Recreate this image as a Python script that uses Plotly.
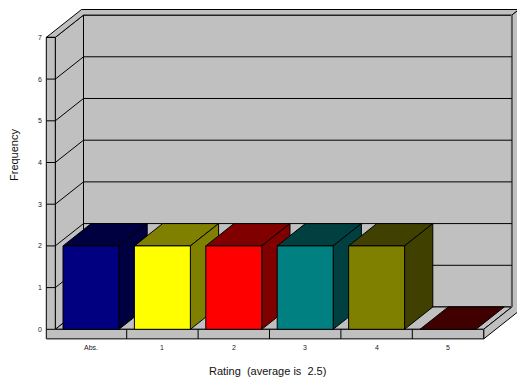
import plotly.graph_objects as go

# ---- data -------------------------------------------------------------
categories = ["Abs.", "1", "2", "3", "4", "5"]
frequency = [2, 2, 2, 2, 2, 0]
front_colors = ["#000080", "#FFFF00", "#FF0000", "#008080", "#808000", "#800000"]
shade_colors = ["#000040", "#808000", "#800000", "#004040", "#404000", "#400000"]
y_ticks = [0, 1, 2, 3, 4, 5, 6, 7]
x_title = "Rating  (average is  2.5)"
y_title = "Frequency"

# ---- 3-D box geometry (axis units) -----------------------------------
N = len(categories)
Y_MAX = max(y_ticks)
DX, DY = 0.395, 0.535      # screen offset of one unit of depth
WALL_T = 0.126             # left wall thickness (category units)
FLOOR_T = 0.23             # floor thickness (value units)
BACK_T = 0.25              # back wall thickness (depth units)
GAP = 0.108                # gap either side of a bar inside its category

WALL = "#C0C0C0"
EDGE = "#000000"


def proj(x, y, z):
    return x + DX * z, y + DY * z


def path(pts):
    xy = [proj(*p) for p in pts]
    return "M " + " L ".join(f"{x:.4f},{y:.4f}" for x, y in xy) + " Z"


def line_path(p0, p1):
    (x0, y0), (x1, y1) = proj(*p0), proj(*p1)
    return f"M {x0:.4f},{y0:.4f} L {x1:.4f},{y1:.4f}"


fig = go.Figure()
shapes = []


def face(pts, fill, color=EDGE, width=1):
    shapes.append(dict(type="path", path=path(pts), fillcolor=fill,
                       line=dict(color=color, width=width),
                       xref="x", yref="y", layer="above"))


def seg(p0, p1, color=EDGE, width=1):
    shapes.append(dict(type="path", path=line_path(p0, p1),
                       line=dict(color=color, width=width),
                       xref="x", yref="y", layer="above"))


T, F, B = WALL_T, FLOOR_T, BACK_T

# back wall (front face), left wall inner face, floor top
face([(0, 0, 1), (N, 0, 1), (N, Y_MAX, 1), (0, Y_MAX, 1)], WALL)
face([(0, 0, 0), (0, 0, 1), (0, Y_MAX, 1), (0, Y_MAX, 0)], WALL)
face([(0, 0, 0), (N, 0, 0), (N, 0, 1), (0, 0, 1)], WALL)
# top edges of the walls
face([(-T, Y_MAX, 0), (0, Y_MAX, 0), (0, Y_MAX, 1), (N, Y_MAX, 1),
      (N, Y_MAX, 1 + B), (-T, Y_MAX, 1 + B)], WALL)
# right-hand faces of floor and back wall
face([(N, -F, 0), (N, 0, 0), (N, 0, 1), (N, Y_MAX, 1),
      (N, Y_MAX, 1 + B), (N, -F, 1 + B)], WALL)
# front faces of left wall and floor
face([(-T, -F, 0), (N, -F, 0), (N, 0, 0), (0, 0, 0),
      (0, Y_MAX, 0), (-T, Y_MAX, 0)], WALL)
seg((N, 0, 1), (N, Y_MAX, 1), color="#606060", width=2)

# gridlines and value ticks
for k in y_ticks:
    if 0 < k < Y_MAX:
        seg((0, k, 1), (N, k, 1))
        seg((0, k, 0), (0, k, 1))
    seg((-T, k, 0), (0, k, 0))

# category dividers on the floor front
for i in range(1, N):
    seg((i, -F, 0), (i, 0, 0))

# bars, left to right so each front covers the previous side
for i, v in enumerate(frequency):
    x0, x1 = i + GAP, i + 1 - GAP
    face([(x0, v, 0), (x1, v, 0), (x1, v, 1), (x0, v, 1)], shade_colors[i])
    if v > 0:
        face([(x1, 0, 0), (x1, 0, 1), (x1, v, 1), (x1, v, 0)], shade_colors[i])
        face([(x0, 0, 0), (x1, 0, 0), (x1, v, 0), (x0, v, 0)], front_colors[i])

# ---- text ---------------------------------------------------------------
FONT = "Liberation Sans, Arial, sans-serif"
annotations = []
for k in y_ticks:
    annotations.append(dict(x=-T - 0.04, y=k, xref="x", yref="y", text=str(k),
                            showarrow=False, xanchor="right", yanchor="middle",
                            borderpad=0, font=dict(family=FONT, size=7, color="#222")))
for i, c in enumerate(categories):
    annotations.append(dict(x=i + 0.5, y=-F - 0.2, xref="x", yref="y", text=c,
                            showarrow=False, xanchor="center", yanchor="middle",
                            borderpad=0, font=dict(family=FONT, size=7, color="#222")))
annotations.append(dict(x=267 / 517, y=1 - 371 / 381, xref="paper", yref="paper",
                        text=x_title, showarrow=False, xanchor="center",
                        yanchor="middle", borderpad=0,
                        font=dict(family=FONT, size=11, color="#111")))
annotations.append(dict(x=14 / 517, y=1 - 155 / 381, xref="paper", yref="paper",
                        text=y_title, showarrow=False, textangle=-90,
                        xanchor="center", yanchor="middle", borderpad=0,
                        font=dict(family=FONT, size=11, color="#111")))

# axis ranges chosen so one category = 71.4 px and one unit = 41.7 px
X0_PX, Y0_PX, CX, CY = 55.3, 329.3, 71.4, 41.7
W, H = 517, 381
fig.update_layout(
    width=W, height=H, autosize=False,
    margin=dict(l=0, r=0, t=0, b=0, pad=0),
    paper_bgcolor="white", plot_bgcolor="white",
    showlegend=False,
    xaxis=dict(range=[-X0_PX / CX, (W - X0_PX) / CX], visible=False, fixedrange=True),
    yaxis=dict(range=[(Y0_PX - H) / CY, Y0_PX / CY], visible=False, fixedrange=True),
    shapes=shapes,
    annotations=annotations,
)

fig.write_html("out.html")
